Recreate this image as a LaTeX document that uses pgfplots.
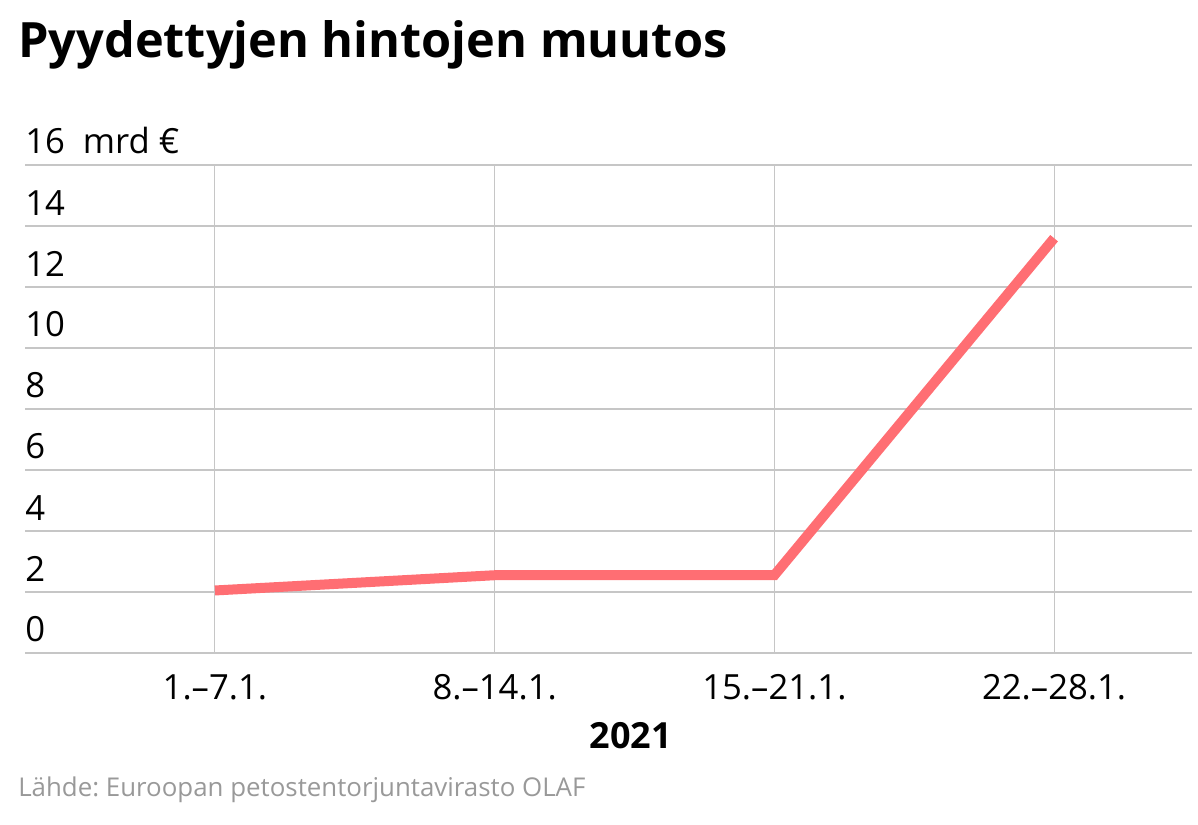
\documentclass[border=0pt]{standalone}
\usepackage{fontspec}
\setmainfont{Open Sans}
\usepackage{pgfplots}
\pgfplotsset{compat=1.18}
\definecolor{linered}{HTML}{FF6E73}
\definecolor{gridgray}{HTML}{C6C6C6}
\definecolor{sourcegray}{HTML}{999999}
\frenchspacing
\begin{document}
\begin{tikzpicture}
  % page frame: 1198 x 824 px at 0.75pt per px
  \path[use as bounding box] (0,0) rectangle (898.5pt,618pt);
  \node[anchor=base west, inner sep=0pt, font=\fontsize{36.5}{44}\selectfont\bfseries]
    at (13.5pt,574.5pt) {Pyydettyjen hintojen muutos};
  \begin{axis}[
      at={(18.75pt,128.25pt)}, anchor=south west,
      scale only axis,
      width=875.25pt, height=366pt,
      xmin=-0.679, xmax=3.493,
      ymin=0, ymax=16,
      xtick={0,1,2,3},
      xticklabels={1.–7.1., 8.–14.1., 15.–21.1., 22.–28.1.},
      ytick={0,2,...,16},
      yticklabels={0,2,4,6,8,10,12,14,{16\hspace{0.52em}mrd €}},
      grid=major,
      major grid style={draw=gridgray, line width=0.8pt},
      axis line style={draw=none},
      major tick length=0pt,
      /pgf/number format/assume math mode=true,
      ticklabel style={font=\fontsize{26}{30}\selectfont},
      yticklabel style={anchor=south west, inner sep=0pt, yshift=8pt, xshift=0pt},
      xticklabel style={anchor=north, inner sep=0pt, yshift=-16pt},
      xlabel={\textbf{2021}},
      xlabel style={at={(rel axis cs:0.519,0)}, anchor=north, inner sep=0pt,
        yshift=-52pt, font=\fontsize{27}{32}\selectfont},
      clip=false,
    ]
    \addplot[draw=linered, line width=7.5pt, line join=miter, line cap=butt] coordinates {
        (0,2.05)
        (1,2.55)
        (2,2.55)
        (3,13.6)
      };
  \end{axis}
  \node[anchor=base west, inner sep=0pt, text=sourcegray, font=\fontsize{19.4}{23}\selectfont]
    at (13.5pt,21pt) {Lähde: Euroopan petostentorjuntavirasto OLAF};
\end{tikzpicture}
\end{document}
